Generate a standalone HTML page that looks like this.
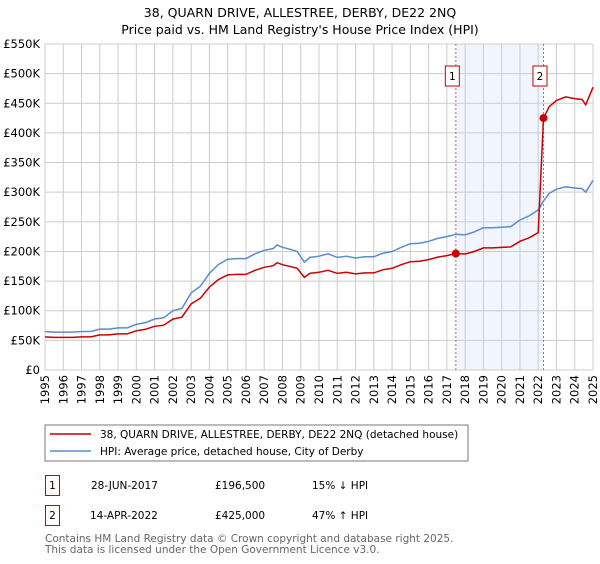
<!DOCTYPE html>
<html><head><meta charset="utf-8"><style>
body{margin:0;background:#fff;font-family:"DejaVu Sans","Liberation Sans",sans-serif;}
svg text{font-family:"DejaVu Sans","Liberation Sans",sans-serif;}
</style></head><body>
<svg id="c" width="600" height="560" viewBox="0 0 600 560">
<text x="300" y="17" text-anchor="middle" font-size="12.5">38, QUARN DRIVE, ALLESTREE, DERBY, DE22 2NQ</text>
<text x="300" y="34" text-anchor="middle" font-size="12.5">Price paid vs. HM Land Registry's House Price Index (HPI)</text>
<g id="grid"></g><g id="marks"></g><g id="axes"></g>
<rect x="45" y="425" width="423" height="36" fill="#fff" stroke="#777"/>
<line x1="50" y1="434" x2="91" y2="434" stroke="#cc0000" stroke-width="1.5"/>
<text x="100" y="438" font-size="10.5">38, QUARN DRIVE, ALLESTREE, DERBY, DE22 2NQ (detached house)</text>
<line x1="50" y1="451" x2="91" y2="451" stroke="#5b8bd0" stroke-width="1.5"/>
<text x="100" y="455" font-size="10.5">HPI: Average price, detached house, City of Derby</text>
<g>
<rect x="45.5" y="475.5" width="14" height="20" fill="#fff" stroke="#cc0000"/>
<text x="52.5" y="489" text-anchor="middle" font-size="10.5">1</text>
<text x="91" y="489" font-size="10.5">28-JUN-2017</text>
<text x="215" y="489" font-size="10.5">£196,500</text>
<text x="312" y="489" font-size="10.5">15% ↓ HPI</text></g>
<g>
<rect x="45.5" y="505.5" width="14" height="20" fill="#fff" stroke="#cc0000"/>
<text x="52.5" y="519" text-anchor="middle" font-size="10.5">2</text>
<text x="90" y="519" font-size="10.5">14-APR-2022</text>
<text x="215" y="519" font-size="10.5">£425,000</text>
<text x="312" y="519" font-size="10.5">47% ↑ HPI</text></g>
<text x="45" y="542" font-size="10.5" fill="#666">Contains HM Land Registry data © Crown copyright and database right 2025.</text>
<text x="45" y="553" font-size="10.5" fill="#666">This data is licensed under the Open Government Licence v3.0.</text>
</svg>
<script>
const yTicks=[0,50,100,150,200,250,300,350,400,450,500,550];
const yTickLabels=["£0","£50K","£100K","£150K","£200K","£250K","£300K","£350K","£400K","£450K","£500K","£550K"];
const years=[1995,1996,1997,1998,1999,2000,2001,2002,2003,2004,2005,2006,2007,2008,2009,2010,2011,2012,2013,2014,2015,2016,2017,2018,2019,2020,2021,2022,2023,2024,2025];
const hpiT=[1995,1995.5,1996,1996.5,1997,1997.5,1998,1998.5,1999,1999.5,2000,2000.5,2001,2001.5,2002,2002.5,2003,2003.5,2004,2004.5,2005,2005.5,2006,2006.5,2007,2007.5,2007.7,2008,2008.5,2008.8,2009.2,2009.5,2010,2010.5,2011,2011.5,2012,2012.5,2013,2013.5,2014,2014.5,2015,2015.5,2016,2016.5,2017,2017.49,2018,2018.5,2019,2019.5,2020,2020.5,2021,2021.5,2022,2022.29,2022.6,2023,2023.5,2024,2024.4,2024.6,2025];
const hpiV=[65,64,64,64,65,65,69,69,71,71,77,80,86,88,100,104,130,141,163,178,187,188,188,196,202,205,211,207,203,200,182,190,192,196,190,192,189,191,191,197,200,207,213,214,217,222,225,229,228,233,240,240,241,242,253,260,270,285,298,305,309,307,306,300,320];
const saleT=[2017.49,2022.29];
const saleV=[196.5,425];
const x0=45,x1=593,y0=370,y1=44;
const X=t=>x0+(t-1995)/30*(x1-x0);
const Y=v=>y0-v/550*(y0-y1);
const NS="http://www.w3.org/2000/svg";
function mk(tag,attrs,parent){const e=document.createElementNS(NS,tag);for(const k in attrs)e.setAttribute(k,attrs[k]);parent.appendChild(e);return e;}
const grid=document.getElementById('grid'),marks=document.getElementById('marks'),axes=document.getElementById('axes');
let sh=mk('rect',{x:X(saleT[0]),y:y1,width:X(saleT[1])-X(saleT[0]),height:y0-y1,fill:'#eef3fc',opacity:0.8},grid);


yTicks.forEach((v,i)=>{
 let l=mk('line',{x1:x0,x2:x1,y1:Y(v),y2:Y(v),stroke:'#cccccc'},grid);
 
 
 let t=mk('text',{x:40,y:Y(v)+4,'text-anchor':'end','font-size':'11.5'},axes);
 t.textContent=yTickLabels[i];
 
 
});
years.forEach(yr=>{
 let l=mk('line',{x1:X(yr),x2:X(yr),y1:y1,y2:y0,stroke:'#cccccc'},grid);
 
 
 let t=mk('text',{x:0,y:0,'font-size':'11.5','text-anchor':'end',transform:`translate(${X(yr)+4},${y0+5}) rotate(-90)`},axes);
 t.textContent=yr;
 
 
});
saleT.forEach((t,i)=>{
 let l=mk('line',{x1:X(t),x2:X(t),y1:y1,y2:y0,stroke:'#e06060','stroke-dasharray':'2,2'},marks);
 
 
 let bx=X(t)-(i==0?10:10);
 let r=mk('rect',{x:X(t)-10.5,y:66,width:14,height:20,fill:'#fff',stroke:'#cc0000'},marks);
 
 
 let tx=mk('text',{x:X(t)-3.5,y:80,'text-anchor':'middle','font-size':'10.5'},marks);
 tx.textContent=String(i+1);
});
function interp(t){for(let i=1;i<hpiT.length;i++){if(t<=hpiT[i]){const f=(t-hpiT[i-1])/(hpiT[i]-hpiT[i-1]);return hpiV[i-1]+f*(hpiV[i]-hpiV[i-1]);}}return hpiV[hpiV.length-1];}
let hp='';hpiT.forEach((t,i)=>{hp+=(i?'L':'M')+X(t).toFixed(1)+','+Y(hpiV[i]).toFixed(1);});
let hl=mk('path',{d:hp,fill:'none',stroke:'#5b8bd0','stroke-width':1.5},marks);


const f0=saleV[0]/interp(saleT[0]),f1=saleV[1]/interp(saleT[1]);
let rp='',first=true;
hpiT.forEach((t,i)=>{
 let f=t<saleT[1]?f0:f1;
 if(t>saleT[1]&&hpiT[i-1]<saleT[1]){rp+='L'+X(saleT[1]).toFixed(1)+','+Y(interp(saleT[1])*f0).toFixed(1)+'L'+X(saleT[1]).toFixed(1)+','+Y(saleV[1]).toFixed(1);}
 rp+=(first?'M':'L')+X(t).toFixed(1)+','+Y(hpiV[i]*f).toFixed(1);first=false;
});
let rl=mk('path',{d:rp,fill:'none',stroke:'#cc0000','stroke-width':1.5},marks);


saleT.forEach((t,i)=>{
 let c=mk('circle',{cx:X(t),cy:Y(saleV[i]),r:4,fill:'#cc0000'},marks);
 
 
});
</script>
</body></html>
